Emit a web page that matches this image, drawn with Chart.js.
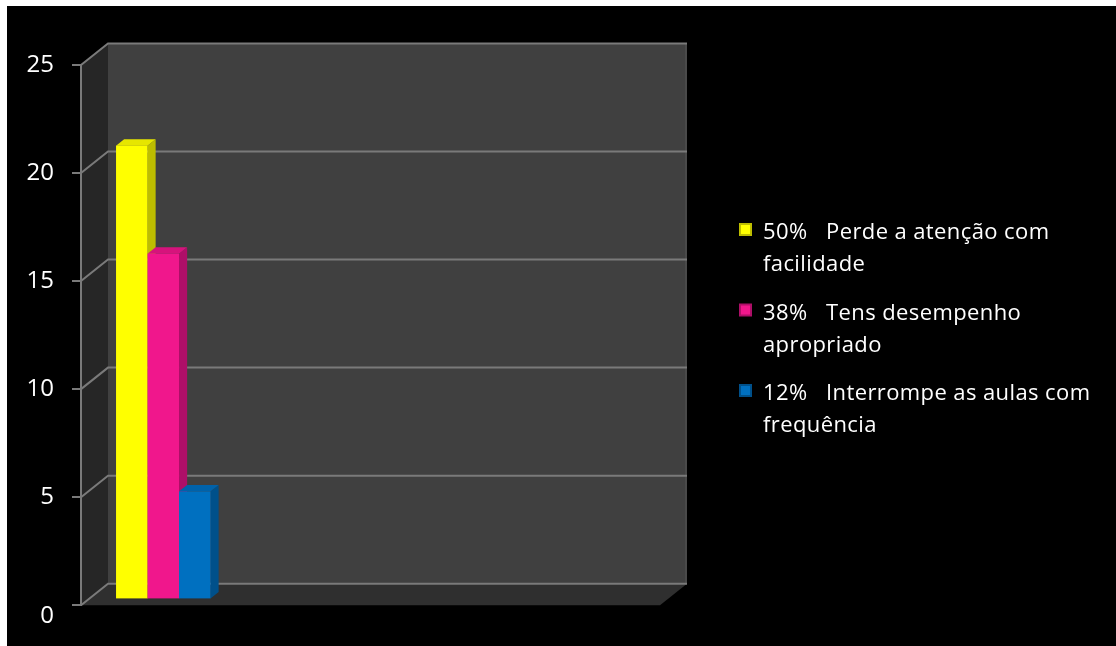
<!DOCTYPE html>
<html>
<head>
<meta charset="utf-8">
<title>Comportamento em sala de aula</title>
<script src="https://cdn.jsdelivr.net/npm/chart.js@4.4.1/dist/chart.umd.min.js"></script>
<style>
  html, body { margin: 0; padding: 0; background: #fff; }
  canvas { display: block; }
</style>
</head>
<body>
<canvas id="chart" width="1116" height="646"></canvas>
<script>
// Chart data
const categories = [""];
const seriesNames = [
  ["Perde a atenção com", "facilidade"],
  ["Tens desempenho", "apropriado"],
  ["Interrompe as aulas com", "frequência"],
];
const seriesValues = [21, 16, 5];
const yTicks = [0, 5, 10, 15, 20, 25];

// Colours: front face, side face, top face
const frontColors = ["#FFFF00", "#F0178C", "#0070C0"];
const sideColors = ["#BDBD00", "#AE0F68", "#00508A"];
const topColors = ["#E6E600", "#D6137C", "#0062AA"];

const total = seriesValues.reduce((a, b) => a + b, 0);
const percents = seriesValues.map((v) => Math.round((v / total) * 100));

const FONT = "'Open Sans'";

// 3D box geometry
const DEPTH = { x: 27, y: -21.5 };
const WALL_RIGHT = 660;
const BAR_NEAR = 0.27;
const BAR_FAR = 0.57;

function fillPoly(ctx, pts, color) {
  ctx.beginPath();
  ctx.moveTo(pts[0][0], pts[0][1]);
  pts.slice(1).forEach((p) => ctx.lineTo(p[0], p[1]));
  ctx.closePath();
  ctx.fillStyle = color;
  ctx.fill();
}

const room3d = {
  id: "room3d",
  beforeDraw(chart) {
    const { ctx, chartArea } = chart;
    const y = chart.scales.y;
    const left = chartArea.left;
    const bottom = y.getPixelForValue(yTicks[0]);
    const top = y.getPixelForValue(yTicks[yTicks.length - 1]);

    ctx.save();
    ctx.fillStyle = "#ffffff";
    ctx.fillRect(0, 0, chart.width, chart.height);
    ctx.fillStyle = "#000000";
    ctx.fillRect(7, 6, chart.width - 7, chart.height - 6);

    // side wall
    fillPoly(ctx, [
      [left, top], [left + DEPTH.x, top + DEPTH.y],
      [left + DEPTH.x, bottom + DEPTH.y], [left, bottom],
    ], "#262626");
    // back wall
    ctx.fillStyle = "#404040";
    ctx.fillRect(left + DEPTH.x, top + DEPTH.y, WALL_RIGHT - left, bottom - top);
    ctx.fillStyle = "#4a4a4a";
    ctx.fillRect(WALL_RIGHT + DEPTH.x - 2, top + DEPTH.y, 2, bottom - top);
    // floor
    fillPoly(ctx, [
      [left, bottom], [WALL_RIGHT, bottom],
      [WALL_RIGHT + DEPTH.x, bottom + DEPTH.y], [left + DEPTH.x, bottom + DEPTH.y],
    ], "#2f2f2f");

    // grid lines on side and back walls
    ctx.strokeStyle = "#7a7a7a";
    ctx.lineWidth = 2;
    y.ticks.forEach((t) => {
      const py = y.getPixelForValue(t.value);
      ctx.beginPath();
      ctx.moveTo(left, py);
      ctx.lineTo(left + DEPTH.x, py + DEPTH.y);
      ctx.lineTo(WALL_RIGHT + DEPTH.x, py + DEPTH.y);
      ctx.stroke();
    });
    ctx.restore();
  },
  beforeDatasetDraw() {
    // bars are drawn as boxes below
    return false;
  },
  afterDatasetsDraw(chart) {
    const { ctx } = chart;
    const fx = DEPTH.x * BAR_NEAR, fy = DEPTH.y * BAR_NEAR;
    const sx = DEPTH.x * (BAR_FAR - BAR_NEAR), sy = DEPTH.y * (BAR_FAR - BAR_NEAR);
    ctx.save();
    chart.data.datasets.forEach((ds, i) => {
      chart.getDatasetMeta(i).data.forEach((bar) => {
        const { x, y, base, width } = bar.getProps(["x", "y", "base", "width"], true);
        const l = x - width / 2 + fx, r = x + width / 2 + fx;
        const t = y + fy, b = base + fy;
        fillPoly(ctx, [[r, t], [r + sx, t + sy], [r + sx, b + sy], [r, b]], sideColors[i]);
        fillPoly(ctx, [[l, t], [l + sx, t + sy], [r + sx, t + sy], [r, t]], topColors[i]);
        ctx.fillStyle = frontColors[i];
        ctx.fillRect(l, t, r - l, b - t);
      });
    });
    ctx.restore();
  },
  afterDraw(chart) {
    const { ctx } = chart;
    ctx.save();
    ctx.font = "22px " + FONT;
    ctx.letterSpacing = "0.4px";
    ctx.textBaseline = "alphabetic";
    chart.data.datasets.forEach((ds, i) => {
      const baseY = 239 + i * 80.5;
      ctx.fillStyle = sideColors[i];
      ctx.fillRect(739, baseY - 16, 13, 13);
      ctx.fillStyle = frontColors[i];
      ctx.fillRect(741, baseY - 14, 9, 9);
      ctx.fillStyle = "#ffffff";
      ctx.fillText(percents[i] + "%", 763, baseY);
      ctx.fillText(seriesNames[i][0], 826, baseY);
      seriesNames[i].slice(1).forEach((line, j) => {
        ctx.fillText(line, 763, baseY + 32 * (j + 1));
      });
    });
    ctx.restore();
  },
};

new Chart(document.getElementById("chart"), {
  type: "bar",
  data: {
    labels: categories,
    datasets: seriesValues.map((v, i) => ({
      label: percents[i] + "% " + seriesNames[i].join(" "),
      data: [v],
      backgroundColor: frontColors[i],
      categoryPercentage: 0.63,
      barPercentage: 1,
    })),
  },
  options: {
    responsive: false,
    animation: false,
    layout: { padding: { left: 0, top: 65, right: 885, bottom: 37 } },
    plugins: { legend: { display: false }, tooltip: { enabled: false } },
    scales: {
      x: { display: false },
      y: {
        min: yTicks[0],
        max: yTicks[yTicks.length - 1],
        ticks: {
          stepSize: yTicks[1] - yTicks[0],
          color: "#ffffff",
          padding: 18,
          font: { family: FONT, size: 24, lineHeight: 0.95 },
          // the zero label sits below the floor
          callback: (v) => (v === 0 ? ["", "0"] : String(v)),
        },
        grid: { drawOnChartArea: false, drawTicks: true, tickLength: 9, color: "#7a7a7a", lineWidth: 2 },
        border: { display: true, color: "#7a7a7a", width: 2 },
        afterFit: (scale) => { scale.width = 81; },
      },
    },
  },
  plugins: [room3d],
});
</script>
</body>
</html>
